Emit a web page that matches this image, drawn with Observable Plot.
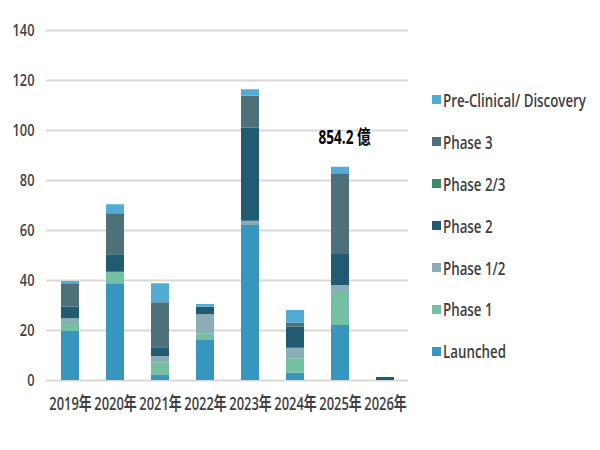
<!DOCTYPE html>
<html>
<head>
<meta charset="utf-8">
<script src="https://cdn.jsdelivr.net/npm/d3@7"></script>
<script src="https://cdn.jsdelivr.net/npm/@observablehq/plot@0.6"></script>
<style>
  html, body { margin: 0; padding: 0; background: #fff; }
  #wrap { position: relative; width: 600px; height: 450px; overflow: hidden; }
  #legend { position: absolute; left: 432px; top: 79px; font-family: "Open Sans", "DejaVu Sans", sans-serif; font-weight: 600; font-size: 17.5px; color: #404040; }
  .item { height: 41.9px; display: flex; align-items: center; white-space: nowrap; }
  .sw { width: 9px; height: 9px; margin-right: 2px; flex: none; }
  .lt { display: inline-block; transform-origin: 0 50%; }
</style>
</head>
<body>
<div id="wrap"></div>
<script>
const years = ["2019年", "2020年", "2021年", "2022年", "2023年", "2024年", "2025年", "2026年"];
const phases = ["Launched", "Phase 1", "Phase 1/2", "Phase 2", "Phase 2/3", "Phase 3", "Pre-Clinical/ Discovery"];
const colors = ["#3796be", "#75c0a3", "#8badb8", "#215b72", "#3b8a6a", "#4d7079", "#52acd4"];

const launched   = [19.6, 38.7, 2.0, 16.0, 62.0, 2.9, 22.0, 0];
const phase1     = [2.8, 4.6, 5.1, 2.7, 0, 5.8, 13.6, 0];
const phase12    = [2.3, 0, 2.5, 7.6, 1.7, 4.2, 2.4, 0];
const phase2     = [4.6, 7.0, 3.5, 3.0, 37.3, 8.4, 12.4, 1.2];
const phase23    = [0, 0, 0, 0, 0, 0, 0, 0];
const phase3     = [9.4, 16.4, 18.0, 0, 12.7, 1.6, 32.3, 0];
const preclinical= [0.9, 3.6, 7.6, 1.1, 2.6, 5.1, 2.6, 0];

const yTicks = [0, 20, 40, 60, 80, 100, 120, 140];
const annotations = [{year: "2025年", value: 97, label: "854.2 億"}];

const seriesByPhase = [launched, phase1, phase12, phase2, phase23, phase3, preclinical];
const table = [];
phases.forEach((p, i) => {
  years.forEach((y, j) => table.push({year: y, phase: p, value: seriesByPhase[i][j]}));
});

const font = '"Open Sans", "Noto Sans CJK TC", sans-serif';

const chart = Plot.plot({
  width: 600,
  height: 450,
  marginLeft: 46,
  marginRight: 192,
  marginTop: 30,
  marginBottom: 70,
  style: {fontFamily: font, color: "#404040", background: "#fff", fontWeight: 600},
  x: {type: "band", domain: years, paddingInner: 0.6, paddingOuter: 0.3, axis: null},
  y: {domain: [0, 140], axis: null},
  color: {domain: phases, range: colors},
  marks: [
    Plot.ruleY(yTicks, {stroke: "#d9d9d9", strokeWidth: 2}),
    Plot.barY(table, {x: "year", y: "value", fill: "phase", order: phases}),
    Plot.axisY({ticks: yTicks, tickSize: 0, tickPadding: 12, label: null, fontSize: 17, fill: "#404040", className: "yax"}),
    Plot.axisX({tickSize: 0, tickPadding: 17, label: null, fontSize: 18, fill: "#404040", className: "xax"}),
    Plot.text(annotations, {x: "year", y: "value", text: "label", dx: 4, fontSize: 19, fontWeight: "bold", fill: "#000", className: "ann"})
  ]
});

const wrap = document.getElementById("wrap");
wrap.appendChild(chart);

// horizontally condense texts (the reference uses a narrow rendering)
function squeeze(els, targetWidth, sample) {
  const arr = Array.from(els);
  if (!arr.length) return;
  const ref = arr.find(e => e.textContent === sample) || arr[0];
  const w = ref.getBBox().width;
  const f = targetWidth / w;
  arr.forEach(el => {
    const b = el.getBBox();
    const anchor = getComputedStyle(el).textAnchor;
    const ax = anchor === "middle" ? b.x + b.width / 2 : anchor === "end" ? b.x + b.width : b.x;
    const t = el.getAttribute("transform") || "";
    el.setAttribute("transform", `${t} translate(${ax},0) scale(${f},1) translate(${-ax},0)`);
  });
}
squeeze(chart.querySelectorAll(".xax text"), 42.5, "2019年");
squeeze(chart.querySelectorAll(".yax text"), 22, "140");
squeeze(chart.querySelectorAll(".ann text"), 52, "854.2 億");

const legend = document.createElement("div");
legend.id = "legend";
const spans = [];
phases.slice().reverse().forEach(p => {
  const it = document.createElement("div");
  it.className = "item";
  const sw = document.createElement("span");
  sw.className = "sw";
  sw.style.background = colors[phases.indexOf(p)];
  const t = document.createElement("span");
  t.className = "lt";
  t.textContent = p;
  it.appendChild(sw);
  it.appendChild(t);
  legend.appendChild(it);
  spans.push(t);
});
wrap.appendChild(legend);
const lw = spans[0].getBoundingClientRect().width;
const lf = 143 / lw;
spans.forEach(s => s.style.transform = `scaleX(${lf})`);
</script>
</body>
</html>
